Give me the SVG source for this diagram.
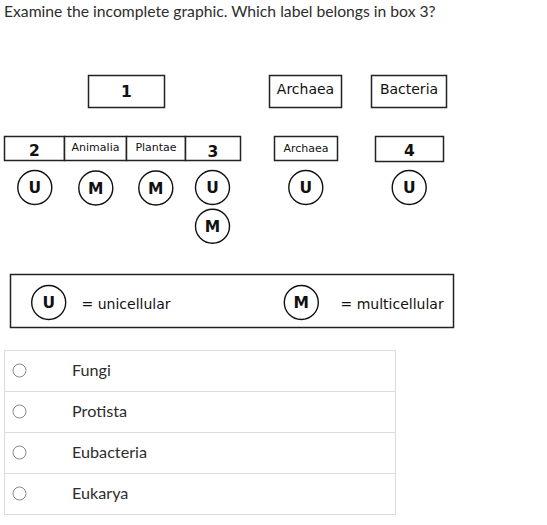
<svg xmlns="http://www.w3.org/2000/svg" width="547" height="525" viewBox="0 0 547 525">
<style>
.q{font-family:Lato,"Open Sans",sans-serif;font-size:15.7px;fill:#2d2d2d}
.opt{font-family:Lato,"Open Sans",sans-serif;font-size:16.2px;fill:#2d2d2d}
.box{fill:#fff;stroke:#222;stroke-width:1.5}
.c{fill:#fff;stroke:#111;stroke-width:1.4}
.d{font-family:'DejaVu Sans',sans-serif}
.cl{font-weight:bold;font-size:15.5px;fill:#111;text-anchor:middle}
.num{font-weight:bold;font-size:15.5px;fill:#111;text-anchor:middle}
.lbl{font-size:14px;fill:#111;text-anchor:middle}
.sm{font-size:11px;fill:#111;text-anchor:middle}
.leg{font-size:14px;fill:#111}
.row{fill:#fff;stroke:#dcdcdc;stroke-width:1}
.radio{fill:#fff;stroke:#8a8a8a;stroke-width:1}
</style>
<rect width="547" height="525" fill="#fff"/>
<text class="q" x="4" y="17">Examine the incomplete graphic. Which label belongs in box 3?</text>

<g id="box1"><rect class="box" x="88.5" y="75.5" width="76" height="32"/><text class="d num" x="126.5" y="97">1</text></g>
<g id="archaea-top"><rect class="box" x="269.5" y="75.5" width="72" height="32"/><text class="d lbl" x="305.5" y="93.5">Archaea</text></g>
<g id="bacteria-top"><rect class="box" x="371.5" y="75.5" width="75" height="32"/><text class="d lbl" x="409" y="93.5">Bacteria</text></g>

<g id="box2"><rect class="box" x="4.5" y="136.5" width="60" height="24"/><text class="d num" x="34.5" y="156">2</text></g>
<g id="animalia"><rect class="box" x="64.5" y="136.5" width="62" height="24"/><text class="d sm" x="95.5" y="151">Animalia</text></g>
<g id="plantae"><rect class="box" x="126.5" y="136.5" width="59" height="24"/><text class="d sm" x="156" y="151">Plantae</text></g>
<g id="box3"><rect class="box" x="185.5" y="136.5" width="55" height="24"/><text class="d num" x="213" y="156.5">3</text></g>
<g id="archaea-low"><rect class="box" x="274.5" y="136.5" width="63" height="24"/><text class="d sm" x="306" y="151.5">Archaea</text></g>
<g id="box4"><rect class="box" x="375.5" y="136.5" width="68" height="25"/><text class="d num" x="409.5" y="156">4</text></g>

<g id="c-u1"><circle class="c" cx="34.8" cy="187.5" r="17"/><text class="d cl" x="34.8" y="193.2">U</text></g>
<g id="c-m1"><circle class="c" cx="95.8" cy="188" r="17"/><text class="d cl" x="95.8" y="193.7">M</text></g>
<g id="c-m2"><circle class="c" cx="155.8" cy="188" r="17"/><text class="d cl" x="155.8" y="193.7">M</text></g>
<g id="c-u3"><circle class="c" cx="212.5" cy="187.5" r="17"/><text class="d cl" x="212.5" y="193.2">U</text></g>
<g id="c-m3"><circle class="c" cx="212.5" cy="226.3" r="17"/><text class="d cl" x="212.5" y="232">M</text></g>
<g id="c-u4"><circle class="c" cx="305.8" cy="187.5" r="17"/><text class="d cl" x="305.8" y="193.2">U</text></g>
<g id="c-u5"><circle class="c" cx="409.2" cy="187.5" r="17"/><text class="d cl" x="409.2" y="193.2">U</text></g>

<g id="legend">
<rect class="box" x="10.5" y="274.5" width="443" height="53"/>
<circle class="c" cx="48.7" cy="302.5" r="17"/><text class="d cl" x="48.7" y="308.2">U</text>
<text class="d leg" x="81.5" y="308.5">= unicellular</text>
<circle class="c" cx="301.3" cy="302.5" r="17"/><text class="d cl" x="301.3" y="308.2">M</text>
<text class="d leg" x="340.5" y="308.5">= multicellular</text>
</g>

<g id="options">
<rect class="row" x="4.5" y="350.5" width="391" height="41"/>
<rect class="row" x="4.5" y="391.5" width="391" height="41"/>
<rect class="row" x="4.5" y="432.5" width="391" height="41"/>
<rect class="row" x="4.5" y="473.5" width="391" height="41"/>
<circle class="radio" cx="19.5" cy="370.5" r="6.5"/>
<circle class="radio" cx="19.5" cy="411.5" r="6.5"/>
<circle class="radio" cx="19.5" cy="452.5" r="6.5"/>
<circle class="radio" cx="19.5" cy="493.5" r="6.5"/>
<text class="opt" x="72" y="376">Fungi</text>
<text class="opt" x="72" y="417">Protista</text>
<text class="opt" x="72" y="458">Eubacteria</text>
<text class="opt" x="72" y="499">Eukarya</text>
</g>
</svg>
